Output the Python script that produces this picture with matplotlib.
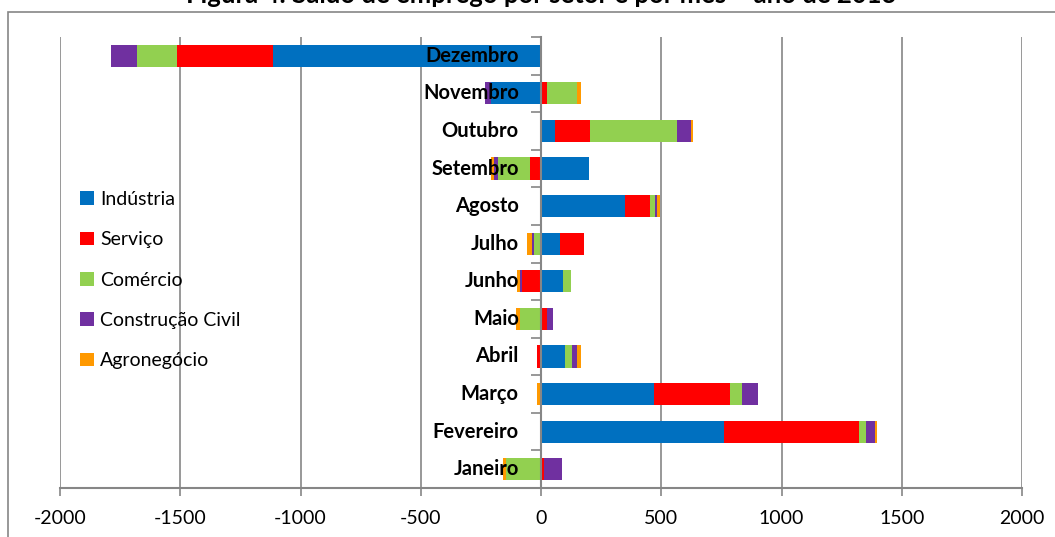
import matplotlib
matplotlib.use("Agg")
import matplotlib.pyplot as plt
from matplotlib.patches import Rectangle
import numpy as np

plt.rcParams['font.family'] = ['Lato', 'DejaVu Sans']
plt.rcParams['axes.unicode_minus'] = False

meses = ["Janeiro", "Fevereiro", "Março", "Abril", "Maio", "Junho",
         "Julho", "Agosto", "Setembro", "Outubro", "Novembro", "Dezembro"]
setores = ["Indústria", "Serviço", "Comércio", "Construção Civil", "Agronegócio"]
cores = ["#0070C0", "#FF0000", "#92D050", "#7030A0", "#FF9900"]

# saldo por setor, Janeiro..Dezembro
industria = [0, 760, 469, 101, 0, 90, 81, 351, 200, 60, -207, -1116]
servico = [14, 562, 317, -17, 26, -81, 99, 104, -44, 142, 26, -396]
comercio = [-146, 31, 49, 28, -88, 33, -31, 19, -135, 365, 125, -167]
construcao = [74, 35, 69, 21, 25, -8, -7, 7, -18, 56, -25, -107]
agro = [-11, 11, -17, 15, -14, -11, -21, 12, -10, 10, 14, 4]

titulo = "Figura 4: Saldo de emprego por setor e por mês \u2013 ano de 2013"

W, H = 1055, 537
fig = plt.figure(figsize=(W / 100, H / 100), dpi=100)
ax = fig.add_axes([60 / W, 1 - 488 / H, 962 / W, 451 / H])

series = [industria, servico, comercio, construcao, agro]
y = np.arange(len(meses))
pos = np.zeros(len(meses))
neg = np.zeros(len(meses))
for nome, vals, cor in zip(setores, series, cores):
    v = np.array(vals, dtype=float)
    base = np.where(v >= 0, pos, neg)
    ax.barh(y, v, left=base, height=0.59, color=cor, label=nome, zorder=3)
    pos = pos + np.where(v >= 0, v, 0)
    neg = neg + np.where(v < 0, v, 0)

grid_col = "#868686"
ax.set_xlim(-2000, 2000)
ax.set_ylim(-0.5, len(meses) - 0.5)
ax.set_xticks(np.arange(-2000, 2001, 500))
ax.xaxis.grid(True, color=grid_col, linewidth=1.2, zorder=0)
ax.set_yticks(np.arange(-0.5, len(meses), 1))
ax.set_yticklabels([])
ax.tick_params(axis='y', direction='out', length=7, color=grid_col, width=1.2)
ax.tick_params(axis='x', direction='out', length=6, color=grid_col, width=1.2,
               labelsize=14, pad=10)
ax.spines['left'].set_position(('data', 0))
ax.spines['left'].set_color(grid_col)
ax.spines['left'].set_linewidth(1.5)
ax.spines['left'].set_zorder(4)
ax.spines['bottom'].set_color(grid_col)
ax.spines['bottom'].set_linewidth(1.5)
ax.spines['top'].set_visible(False)
ax.spines['right'].set_visible(False)

for i, m in enumerate(meses):
    ax.text(-92, i, m, ha='right', va='center', fontsize=14.5, fontweight='bold', zorder=5)

ax.legend(loc='upper left', bbox_to_anchor=(80 / W, 1 - 191 / H),
          bbox_transform=fig.transFigure, frameon=False, fontsize=14,
          handlelength=0.7, handleheight=0.7, handletextpad=0.35,
          labelspacing=1.2, borderpad=0, borderaxespad=0)

fig.text(541 / W, 1 - 3 / H, titulo, ha='center', va='baseline',
         fontsize=18.5, fontweight='bold')
fig.patches.append(Rectangle((8 / W, -0.1), 1.2, 1.1 - 12 / H, transform=fig.transFigure,
                             fill=False, edgecolor=grid_col, linewidth=1.2))

fig.savefig("out.png", dpi=100)
